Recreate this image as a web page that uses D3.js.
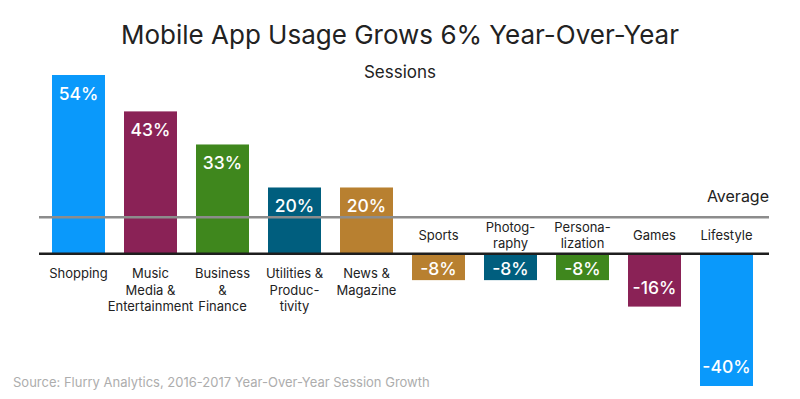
<!DOCTYPE html>
<html lang="en">
<head>
<meta charset="utf-8">
<script src="https://d3js.org/d3.v7.min.js"></script>
<title>Mobile App Usage</title>
<style>
  body { margin: 0; background: #fff; }
  svg text { font-family: Inter, "Noto Sans", sans-serif; }
</style>
</head>
<body>
<div id="chart"></div>
<script>
// data
const categories = ["Shopping", "Music Media & Entertainment", "Business & Finance", "Utilities & Productivity", "News & Magazine",
                    "Sports", "Photography", "Personalization", "Games", "Lifestyle"];
const labelLines = [["Shopping"], ["Music", "Media &", "Entertainment"], ["Business", "&", "Finance"], ["Utilities &", "Produc-", "tivity"], ["News &", "Magazine"],
                    ["Sports"], ["Photog-", "raphy"], ["Persona-", "lization"], ["Games"], ["Lifestyle"]];
const values = [54, 43, 33, 20, 20, -8, -8, -8, -16, -40];
const colors = ["#0a99fb", "#8a2256", "#3f871d", "#005e7e", "#b88030", "#b88030", "#005e7e", "#3f871d", "#8a2256", "#0a99fb"];
const average = 11;

const W = 800, H = 399;
const svg = d3.select("#chart").append("svg").attr("width", W).attr("height", H);

const x = d3.scaleBand().domain(categories).range([42.5, 762.5]).paddingInner(0.264).paddingOuter(0.132);
const y = d3.scaleLinear().domain([-40, 54]).range([386, 75]);

// title
svg.append("text").attr("x", 400).attr("y", 44).attr("text-anchor", "middle")
   .attr("font-size", 26).attr("fill", "#222").text("Mobile App Usage Grows 6% Year-Over-Year");
svg.append("text").attr("x", 400).attr("y", 78).attr("text-anchor", "middle")
   .attr("font-size", 17).attr("fill", "#222").text("Sessions");

// bars
svg.selectAll("rect.bar")
   .data(values)
   .enter()
   .append("rect")
   .attr("class", "bar")
   .attr("x", (d, i) => x(categories[i]))
   .attr("y", d => d > 0 ? y(d) : y(0))
   .attr("width", x.bandwidth())
   .attr("height", d => Math.abs(y(d) - y(0)))
   .attr("fill", (d, i) => colors[i]);

// value labels
svg.selectAll("text.val")
   .data(values)
   .enter()
   .append("text")
   .attr("class", "val")
   .attr("x", (d, i) => x(categories[i]) + x.bandwidth() / 2)
   .attr("y", d => d > 0 ? y(d) + 24.5 : Math.max(y(0) + 21, y(d) - 13))
   .attr("text-anchor", "middle")
   .attr("font-size", 17.5)
   .attr("font-weight", 500)
   .attr("fill", "#fff")
   .text(d => d + "%");

// average line
svg.append("line").attr("x1", 39).attr("x2", 769).attr("y1", y(average)).attr("y2", y(average))
   .attr("stroke", "#8c8c8c").attr("stroke-width", 2.5);
svg.append("text").attr("x", 769).attr("y", 202).attr("text-anchor", "end")
   .attr("font-size", 16).attr("fill", "#222").text("Average");

// zero line
svg.append("line").attr("x1", 39).attr("x2", 769).attr("y1", y(0)).attr("y2", y(0))
   .attr("stroke", "#1e1e1e").attr("stroke-width", 2.5);

// category labels
const lineH = 16.5;
svg.selectAll("text.cat")
   .data(categories)
   .enter()
   .append("text")
   .attr("class", "cat")
   .attr("text-anchor", "middle")
   .attr("font-size", 13)
   .attr("fill", "#222")
   .each(function(d, i) {
       const lines = labelLines[i];
       const cx = x(d) + x.bandwidth() / 2;
       let y0;
       if (values[i] > 0) y0 = y(0) + 24.5;
       else y0 = 240 - (lines.length - 1) * lineH / 2;
       lines.forEach((t, k) => {
           d3.select(this).append("tspan").attr("x", cx).attr("y", y0 + k * lineH).text(t);
       });
   });

// source
svg.append("text").attr("x", 13).attr("y", 387).attr("font-size", 13)
   .attr("fill", "#adadad").text("Source: Flurry Analytics, 2016-2017 Year-Over-Year Session Growth");
</script>
</body>
</html>
